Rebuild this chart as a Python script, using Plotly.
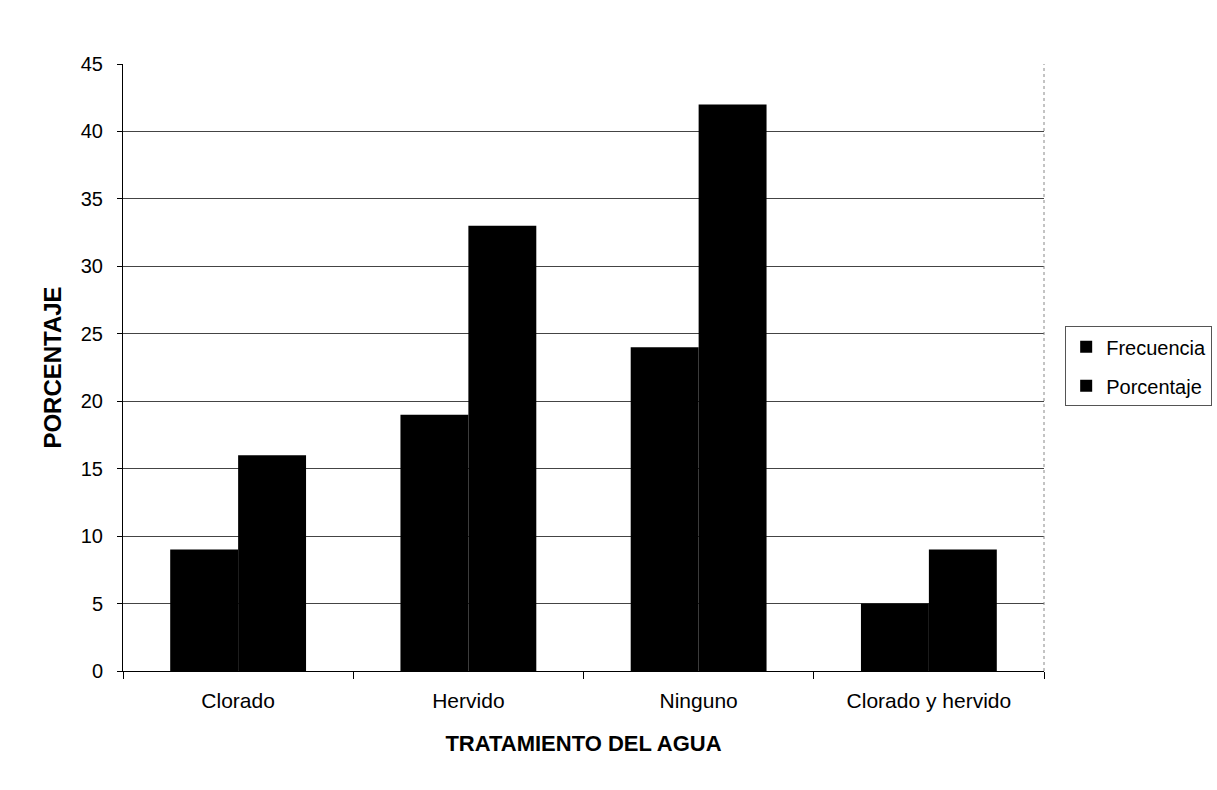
import plotly.graph_objects as go

# Water treatment categories and the two series shown per category
categorias = ["Clorado", "Hervido", "Ninguno", "Clorado y hervido"]
frecuencia = [9, 19, 24, 5]
porcentaje = [16, 33, 42, 9]

y_ticks = [0, 5, 10, 15, 20, 25, 30, 35, 40, 45]

FONT = "Liberation Sans, Arial, sans-serif"

fig = go.Figure()
fig.add_trace(go.Bar(
    x=categorias, y=frecuencia, name="Frecuencia",
    marker=dict(color="black", line=dict(width=0)),
    legendgroup="f",
))
fig.add_trace(go.Bar(
    x=categorias, y=porcentaje, name="Porcentaje",
    marker=dict(color="black", line=dict(width=0)),
    legendgroup="p",
))

fig.update_layout(
    width=1217, height=790,
    margin=dict(l=123, r=173, t=64, b=119, autoexpand=False),
    paper_bgcolor="white", plot_bgcolor="white",
    barmode="group", bargap=0.41, bargroupgap=0,
    font=dict(family=FONT, color="black"),
    legend=dict(
        x=1.023, xanchor="left", y=0.568, yanchor="top",
        font=dict(size=20, family=FONT),
        bordercolor="#555", borderwidth=1,
        itemwidth=30, tracegroupgap=10,
        traceorder="grouped",
    ),
    xaxis=dict(
        type="category",
        range=[-0.5, 3.5],
        showline=True, linecolor="black", linewidth=1,
        ticks="outside", tickson="boundaries", ticklen=7, tickcolor="black",
        tickfont=dict(size=21, family=FONT),
        ticklabelstandoff=11,
        showgrid=False,
        title=dict(text="<b>TRATAMIENTO DEL AGUA</b>", font=dict(size=22, family=FONT),
                   standoff=24),
    ),
    yaxis=dict(
        range=[0, 45],
        tickvals=y_ticks,
        showline=True, linecolor="black", linewidth=1,
        ticks="outside", ticklen=5, tickcolor="black",
        tickfont=dict(size=20, family=FONT),
        ticklabelstandoff=10,
        showgrid=True, gridcolor="#444", gridwidth=1,
        zeroline=False,
        title=dict(text="<b>PORCENTAJE</b>", font=dict(size=24, family=FONT),
                   standoff=12),
    ),
)

# Right edge of the plot area
fig.add_shape(type="line", xref="paper", yref="paper", x0=1, x1=1, y0=0, y1=1,
              line=dict(color="#888", width=1, dash="dot"))

fig.write_html("out.html")
